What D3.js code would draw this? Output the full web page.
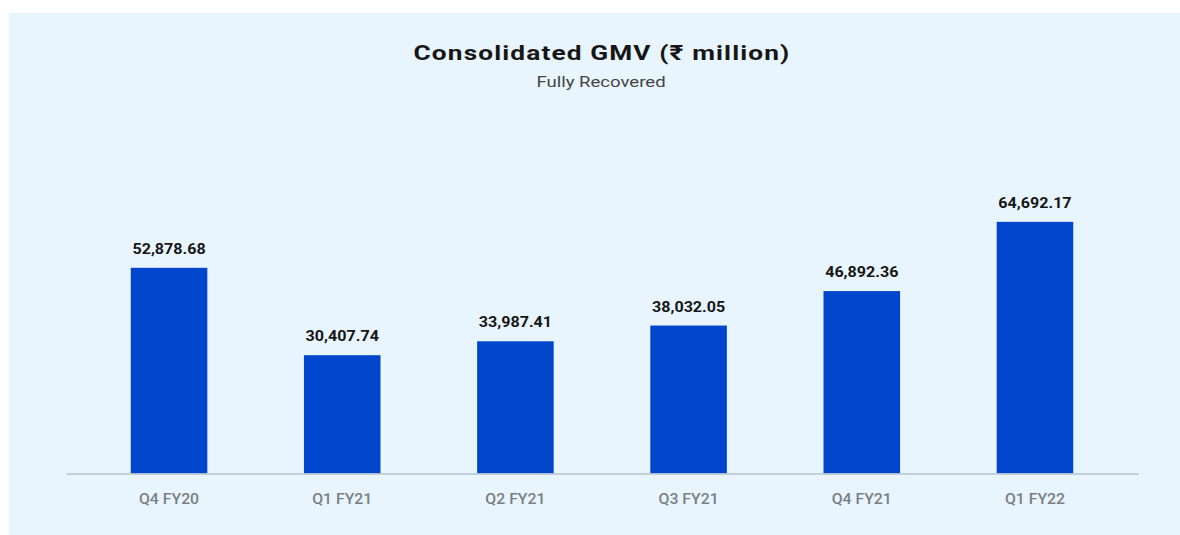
<!DOCTYPE html>
<html>
<head>
<meta charset="utf-8">
<script src="https://cdn.jsdelivr.net/npm/d3@7"></script>
<style>
  html, body { margin: 0; padding: 0; background: #ffffff; }
  svg { display: block; }
  text { font-family: Roboto, "Noto Sans", sans-serif; }
</style>
</head>
<body>
<svg id="chart" width="1180" height="535"></svg>
<script>
// Quarterly consolidated GMV, ₹ million
const quarters = ["Q4 FY20", "Q1 FY21", "Q2 FY21", "Q3 FY21", "Q4 FY21", "Q1 FY22"];
const gmv = [52878.68, 30407.74, 33987.41, 38032.05, 46892.36, 64692.17];
const title = "Consolidated GMV (₹ million)";
const subtitle = "Fully Recovered";

const svg = d3.select("#chart");
const W = 1180, H = 535;

// light blue panel
svg.append("rect")
  .attr("x", 9).attr("y", 13)
  .attr("width", W - 9).attr("height", H - 13)
  .attr("fill", "#e8f4fe");

const x = d3.scaleBand()
  .domain(quarters)
  .range([66, 1138])
  .paddingInner(0.558)
  .paddingOuter(0.374);

const baseY = 473.5;
const y = d3.scaleLinear()
  .domain([0, 70000])
  .range([baseY, baseY - 272.3]);

// text widened horizontally by a given factor
function stretchedText(g, tx, ty, sx) {
  return g.append("g")
    .attr("transform", `translate(${tx},${ty}) scale(${sx},1)`)
    .append("text")
    .attr("text-anchor", "middle");
}

// title and subtitle
stretchedText(svg, 602, 60, 1.25)
  .attr("font-size", 21).attr("font-weight", 700).attr("fill", "#161616")
  .attr("letter-spacing", 0.9)
  .text(title);
stretchedText(svg, 601, 86.5, 1.28)
  .attr("font-size", 14.5).attr("font-weight", 400).attr("fill", "#444")
  .text(subtitle);

// bars
svg.append("g").selectAll("rect")
  .data(quarters)
  .join("rect")
  .attr("x", d => x(d))
  .attr("y", (d, i) => y(gmv[i]))
  .attr("width", x.bandwidth())
  .attr("height", (d, i) => baseY - y(gmv[i]))
  .attr("fill", "#0046cc");

// baseline axis
const axis = svg.append("g")
  .attr("transform", `translate(0,${baseY})`)
  .call(d3.axisBottom(x).tickSize(0).tickPadding(0));
axis.select(".domain").attr("stroke", "#b9c4cc").attr("stroke-width", 1.5);
axis.selectAll(".tick text").remove();

// category labels and value labels
const fmt = d3.format(",.2f");
quarters.forEach((q, i) => {
  const cx = x(q) + x.bandwidth() / 2;
  stretchedText(svg, cx, 504, 1.13)
    .attr("font-size", 14).attr("font-weight", 500).attr("fill", "#7b7f84")
    .text(q);
  stretchedText(svg, cx, y(gmv[i]) - 14, 1.15)
    .attr("font-size", 14).attr("font-weight", 700).attr("fill", "#161616")
    .text(fmt(gmv[i]));
});
</script>
</body>
</html>
